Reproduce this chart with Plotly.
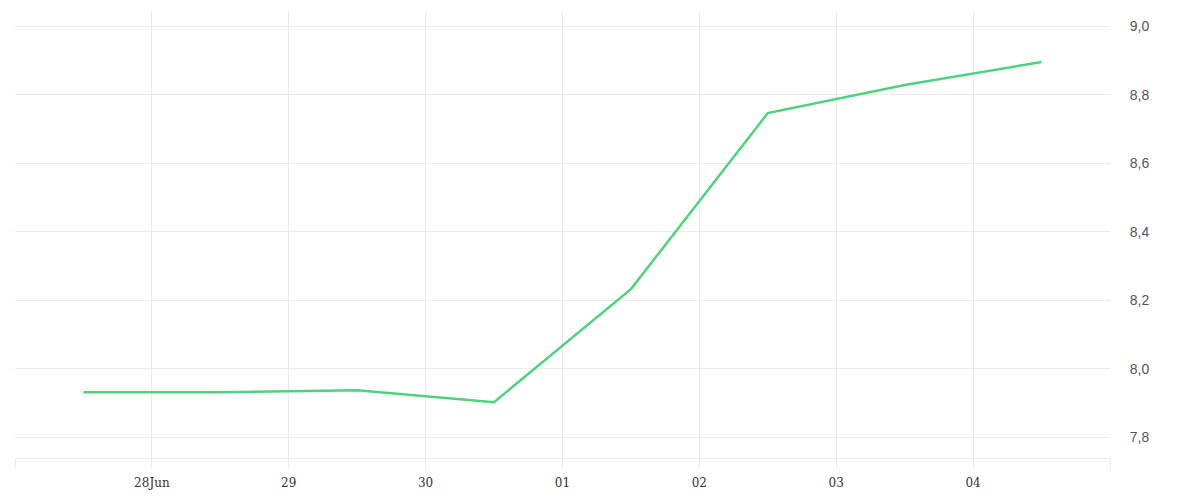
import plotly.graph_objects as go

# daily readings, plotted at midday
dates = ["2023-06-27 12:00", "2023-06-28 12:00", "2023-06-29 12:00", "2023-06-30 12:00",
         "2023-07-01 12:00", "2023-07-02 12:00", "2023-07-03 12:00", "2023-07-04 12:00"]
values = [7.932, 7.932, 7.938, 7.903, 8.233, 8.747, 8.829, 8.896]

tick_dates = ["2023-06-27", "2023-06-28", "2023-06-29", "2023-06-30",
              "2023-07-01", "2023-07-02", "2023-07-03", "2023-07-04", "2023-07-05"]
tick_labels = ["", "28Jun", "29", "30", "01", "02", "03", "04", ""]

y_ticks = [7.8, 8.0, 8.2, 8.4, 8.6, 8.8, 9.0]
y_labels = ["7,8", "8,0", "8,2", "8,4", "8,6", "8,8", "9,0"]

grid = "#ebebeb"

fig = go.Figure()
fig.add_trace(go.Scatter(
    x=dates,
    y=values,
    mode="lines",
    line=dict(color="#4cd37b", width=2.5),
    hoverinfo="x+y",
))

# page body adds an 8px offset, so margins are trimmed to match
fig.update_layout(
    width=1200,
    height=500,
    margin=dict(l=7, r=98, t=4, b=50),
    paper_bgcolor="white",
    plot_bgcolor="white",
    showlegend=False,
    xaxis=dict(
        range=["2023-06-27", "2023-07-05"],
        tickvals=tick_dates,
        ticktext=tick_labels,
        showgrid=True,
        gridcolor=grid,
        showline=True,
        linecolor=grid,
        ticks="outside",
        ticklen=10,
        tickcolor=grid,
        ticklabelstandoff=4,
        zeroline=False,
        tickfont=dict(family="DejaVu Serif", size=12, color="#333"),
    ),
    yaxis=dict(
        side="right",
        range=[7.74, 9.042],
        tickvals=y_ticks,
        ticktext=y_labels,
        showgrid=True,
        gridcolor=grid,
        zeroline=False,
        ticks="outside",
        ticklen=16,
        tickcolor="rgba(0,0,0,0)",
        tickfont=dict(family="Liberation Sans", size=14, color="#555"),
    ),
)

fig.write_html("out.html")
